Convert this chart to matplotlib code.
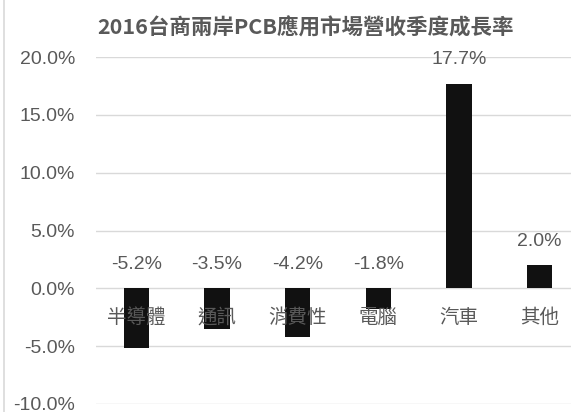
import matplotlib
matplotlib.use("Agg")
import matplotlib.pyplot as plt
from matplotlib.lines import Line2D

categories = ["半導體", "通訊", "消費性", "電腦", "汽車", "其他"]
growth = [-5.2, -3.5, -4.2, -1.8, 17.7, 2.0]
yticks = [-10, -5, 0, 5, 10, 15, 20]

gray = "#595959"
cjk = ["Noto Sans CJK TC", "DejaVu Sans"]
num = ["Liberation Sans", "DejaVu Sans"]

fig = plt.figure(figsize=(5.71, 4.12), dpi=100)
ax = fig.add_axes([96 / 571, 8 / 412, 484 / 571, 347 / 412])

x = list(range(len(categories)))
ax.bar(x, growth, width=0.31, color="#111111", zorder=2)

ax.set_xlim(-0.5, len(categories) - 0.5)
ax.set_ylim(-10, 20)
ax.set_yticks(yticks)
ax.set_yticklabels(["%.1f%%" % v for v in yticks], family=num, fontsize=14, color=gray)
ax.tick_params(axis="y", length=0, pad=15)
ax.set_xticks([])
ax.grid(axis="y", color="#d9d9d9", linewidth=1, zorder=0)
for s in ax.spines.values():
    s.set_visible(False)

# value labels: negatives sit above the zero line, positives above the bar
for xi, v in zip(x, growth):
    base = max(v, 0)
    ax.annotate("%.1f%%" % v, (xi, base), xytext=(0, 17), textcoords="offset points",
                ha="center", va="center", family=num, fontsize=14, color=gray, zorder=3)

# category labels drawn just below the zero line, over the bars
for xi, c in zip(x, categories):
    ax.annotate(c, (xi, 0), xytext=(0, -21), textcoords="offset points",
                ha="center", va="center", family=cjk, fontsize=14, color=gray, zorder=3)

fig.text(306 / 571, 1 - 28 / 412, "2016台商兩岸PCB應用市場營收季度成長率",
         ha="center", va="center", family=cjk, fontsize=15.5, fontweight="bold", color=gray)

fig.add_artist(Line2D([3.5 / 571, 3.5 / 571], [0, 1], color="#d9d9d9", linewidth=1.2))

fig.savefig("out.png", dpi=100)
